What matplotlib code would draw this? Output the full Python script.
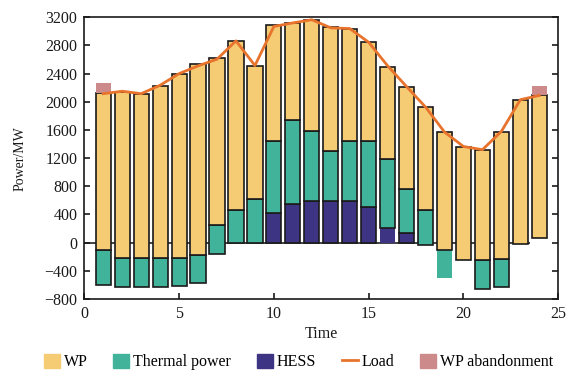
import matplotlib
matplotlib.use("Agg")
import matplotlib.pyplot as plt
import numpy as np

plt.rcParams['font.family'] = ['Liberation Serif', 'DejaVu Serif']

hours = np.arange(1, 25)
# lowest level of each stacked bar (MW)
base = [-600, -625, -625, -625, -615, -570, -155, 0, 0, 0, 0, 0,
        0, 0, 0, 0, 0, -30, -505, -245, -655, -630, -15, 70]
hess = [0, 0, 0, 0, 0, 0, 0, 0, 0, 415, 545, 585,
        595, 585, 500, 215, 130, 0, 0, 0, 0, 0, 0, 0]
thermal = [500, 410, 410, 410, 400, 400, 400, 460, 615, 1030, 1200, 1000,
           705, 860, 945, 970, 625, 500, 405, 0, 415, 400, 0, 0]
wp = [2220, 2360, 2330, 2445, 2615, 2700, 2370, 2400, 1900, 1640, 1370, 1570,
      1755, 1585, 1400, 1315, 1460, 1460, 1670, 1600, 1555, 1800, 2045, 2020]
abandon = [140, 0, 0, 0, 0, 0, 0, 0, 0, 0, 0, 0,
           0, 0, 0, 0, 0, 0, 0, 0, 0, 0, 0, 140]
load = [2115, 2150, 2115, 2235, 2400, 2510, 2605, 2865, 2515, 3070, 3120, 3165,
        3050, 3040, 2845, 2510, 2215, 1925, 1570, 1365, 1320, 1580, 2030, 2090]

c_wp = '#F5CC74'
c_th = '#41B39A'
c_hess = '#3E3484'
c_load = '#E8732C'
c_ab = '#CD8A8A'

fig = plt.figure(figsize=(5.83, 3.84), dpi=100)
ax = fig.add_axes([0.1446, 0.2214, 0.813, 0.7336])

ax.hlines(0, 0, 23.5, color='#222222', lw=1.2, zorder=0)

base = np.array(base, float)
hess = np.array(hess, float)
thermal = np.array(thermal, float)
wp = np.array(wp, float)
abandon = np.array(abandon, float)

w = 0.8
lw = 1.2
ek = '#1a1a1a'

hess_edges = [ek if v > 0 else 'none' for v in hess]
hess_edges[15] = 'none'
th_edges = [ek if v > 0 else 'none' for v in thermal]
th_edges[18] = 'none'

b1 = base
ax.bar(hours, hess, width=w, bottom=b1, color=c_hess, edgecolor=hess_edges, linewidth=lw, zorder=2)
b2 = b1 + hess
ax.bar(hours, thermal, width=w, bottom=b2, color=c_th, edgecolor=th_edges, linewidth=lw, zorder=2)
b3 = b2 + thermal
ax.bar(hours, wp, width=w, bottom=b3, color=c_wp, edgecolor=ek, linewidth=lw, zorder=2)
b4 = b3 + wp
ax.bar(hours, abandon, width=w, bottom=b4, color=c_ab, linewidth=0, zorder=2)

ax.plot(hours, load, color=c_load, lw=2.0, zorder=3)

ax.set_xlim(0, 25)
ax.set_ylim(-800, 3200)
ax.set_xticks([0, 5, 10, 15, 20, 25])
ax.set_yticks(np.arange(-800, 3201, 400))
ax.tick_params(axis='both', direction='in', labelsize=11.5, length=4, width=1.2,
               right=True, top=False, pad=5, colors='#1a1a1a', labelcolor='#1a1a1a')
for s in ax.spines.values():
    s.set_linewidth(1.2)
    s.set_color('#1a1a1a')

ax.set_xlabel('Time', fontsize=11.5, labelpad=3, color='#1a1a1a')
ax.set_ylabel('Power/MW', fontsize=10, labelpad=13, color='#1a1a1a')

from matplotlib.patches import Patch
from matplotlib.lines import Line2D
handles = [Patch(color=c_wp), Patch(color=c_th), Patch(color=c_hess),
           Line2D([], [], color=c_load, lw=2), Patch(color=c_ab)]
labels = ['WP', 'Thermal power', 'HESS', 'Load', 'WP abandonment']
fig.legend(handles, labels, loc='center', bbox_to_anchor=(0.512, 0.057), ncol=5,
           frameon=False, fontsize=11.5, handlelength=1.0, handleheight=1.0,
           handletextpad=0.25, columnspacing=1.6, borderaxespad=0)

fig.savefig('out.png', dpi=100)
